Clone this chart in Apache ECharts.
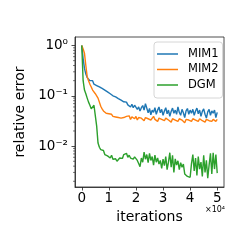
<!DOCTYPE html>
<html><head><meta charset="utf-8">
<script src="https://cdn.jsdelivr.net/npm/echarts@6/dist/echarts.min.js"></script>
<style>html,body{margin:0;padding:0;background:#fff}#c{width:249px;height:249px}</style>
</head><body><div id="c"></div>
<script>
var iterations = [0,500,1000,1500,2000,2500,3000,3500,4000,4500,5000,5500,6000,6500,7000,7500,8000,8500,9000,9500,
10000,10500,11000,11500,12000,12500,13000,13500,14000,14500,15000,15500,16000,16500,17000,17500,18000,18500,19000,19500,
20000,20500,21000,21500,22000,22500,23000,23500,24000,24500,25000,25500,26000,26500,27000,27500,28000,28500,29000,29500,
30000,30500,31000,31500,32000,32500,33000,33500,34000,34500,35000,35500,36000,36500,37000,37500,38000,38500,39000,39500,
40000,40500,41000,41500,42000,42500,43000,43500,44000,44500,45000,45500,46000,46500,47000,47500,48000,48500,49000,49500,50000];
var mim1 = [1.0,0.55,0.35,0.27,0.23,0.21,0.2,0.19,0.2,0.17,
0.18,0.16,0.165,0.15,0.155,0.14,0.145,0.13,0.138,0.12,
0.125,0.11,0.118,0.1,0.108,0.095,0.1,0.088,0.092,0.082,
0.086,0.076,0.07,0.075,0.066,0.072,0.06,0.068,0.058,0.065,
0.062,0.054,0.06,0.05,0.058,0.064,0.052,0.07,0.066,0.046,
0.056,0.042,0.052,0.047,0.058,0.043,0.052,0.06,0.046,0.054,
0.041,0.05,0.058,0.044,0.052,0.039,0.049,0.057,0.045,0.052,
0.043,0.06,0.047,0.041,0.054,0.046,0.037,0.05,0.056,0.043,
0.052,0.045,0.054,0.041,0.05,0.057,0.044,0.052,0.039,0.049,
0.055,0.043,0.036,0.048,0.054,0.041,0.05,0.045,0.052,0.037,0.047];
var mim2 = [1.0,0.85,0.7,0.4,0.24,0.2,0.17,0.15,0.13,0.12,
0.11,0.1,0.09,0.075,0.062,0.055,0.05,0.046,0.045,0.042,
0.044,0.041,0.043,0.039,0.042,0.038,0.041,0.037,0.04,0.036,
0.039,0.037,0.035,0.039,0.036,0.04,0.034,0.038,0.041,0.035,
0.039,0.033,0.037,0.04,0.036,0.038,0.032,0.037,0.04,0.035,
0.038,0.033,0.036,0.039,0.034,0.037,0.031,0.036,0.039,0.034,
0.037,0.032,0.036,0.038,0.033,0.036,0.03,0.035,0.038,0.033,
0.036,0.031,0.035,0.038,0.033,0.036,0.029,0.034,0.037,0.033,
0.036,0.031,0.035,0.038,0.033,0.036,0.031,0.035,0.037,0.032,
0.035,0.03,0.034,0.037,0.032,0.035,0.031,0.034,0.036,0.031,0.034];
var dgm = [1.0,0.2,0.13,0.11,0.09,0.075,0.065,0.055,0.06,0.065,
0.062,0.025,0.0115,0.0095,0.0085,0.0078,0.0082,0.0068,0.0074,0.0064,
0.007,0.0058,0.0066,0.0055,0.0052,0.0056,0.005,0.0054,0.0058,0.0062,
0.0057,0.0068,0.0064,0.0072,0.006,0.0066,0.0058,0.0063,0.0055,0.0061,
0.0056,0.0052,0.0045,0.0039,0.0058,0.0048,0.0076,0.0055,0.0068,0.0047,
0.0072,0.0052,0.0062,0.0042,0.0066,0.0048,0.0058,0.0044,0.0052,0.0036,
0.0055,0.0041,0.0062,0.0034,0.0048,0.0074,0.0038,0.0066,0.003,0.0056,
0.0042,0.0051,0.0034,0.0047,0.0038,0.0044,0.0028,0.0026,0.0025,0.0027,
0.0024,0.0045,0.0068,0.0032,0.0058,0.0026,0.0062,0.0035,0.0048,0.0025,
0.0066,0.003,0.0052,0.0023,0.0042,0.0072,0.0028,0.0074,0.0035,0.0068,0.0029];
var xTicks = [0,10000,20000,30000,40000,50000];
var yMajor = [0.01,0.1,1];
var yMinor = [0.002,0.003,0.004,0.005,0.006,0.007,0.008,0.009,0.02,0.03,0.04,0.05,0.06,0.07,0.08,0.09,0.2,0.3,0.4,0.5,0.6,0.7,0.8,0.9];
var supMap = {'1':'⁰','0.1':'⁻¹','0.01':'⁻²'};

function pairs(ys){ return iterations.map(function(x,i){ return [x, ys[i]]; }); }
var FONT = 'DejaVu Sans';
var chart = echarts.init(document.getElementById('c'), null, {renderer:'canvas'});
var option = {
  animation:false,
  backgroundColor:'#fff',
  grid:{left:75, top:37, right:25, bottom:62, show:true, borderColor:'#222', borderWidth:0.8, backgroundColor:'transparent'},
  xAxis:{type:'value', min:-2500, max:52500,
    axisLine:{show:true, onZero:false, lineStyle:{color:'#222', width:0.8}},
    axisTick:{show:true, length:3.5, lineStyle:{color:'#222', width:0.8}, customValues:xTicks},
    axisLabel:{customValues:xTicks, formatter:function(v){return String(Math.round(v/10000));}, color:'#000', fontFamily:FONT, fontSize:13.5, margin:4},
    splitLine:{show:false},
    name:'iterations', nameLocation:'middle', nameGap:17, nameTextStyle:{fontFamily:FONT, fontSize:14, color:'#000'}
  },
  yAxis:{type:'log', logBase:10, min:0.00154, max:1.476,
    axisLine:{show:true, onZero:false, lineStyle:{color:'#222', width:0.8}},
    axisTick:{show:true, length:3.5, lineStyle:{color:'#222', width:0.8}, customValues:yMajor},
    axisLabel:{customValues:yMajor, formatter:function(v){var k=String(+v.toPrecision(3)); return '10'+(supMap[k]||'');}, color:'#000', fontFamily:FONT, fontSize:13.5, margin:7},
    splitLine:{show:false},
    name:'relative error', nameLocation:'middle', nameGap:34, nameTextStyle:{fontFamily:FONT, fontSize:14, color:'#000'}
  },
  legend:{orient:'vertical', left:154, top:42, data:['MIM1','MIM2','DGM'], icon:'rect', itemWidth:21, itemHeight:1.5, itemGap:3.5,
    padding:[6,4,7,3], borderColor:'#ccc', borderWidth:0.8, borderRadius:3, backgroundColor:'rgba(255,255,255,0.8)',
    textStyle:{fontFamily:FONT, fontSize:11.5, color:'#000', padding:[0,0,0,5]}},
  series:[
    {name:'MIM1', type:'line', data:pairs(mim1), showSymbol:false, symbol:'none', color:'#1f77b4', lineStyle:{width:1.4, color:'#1f77b4'}},
    {name:'MIM2', type:'line', data:pairs(mim2), showSymbol:false, symbol:'none', color:'#ff7f0e', lineStyle:{width:1.4, color:'#ff7f0e'}},
    {name:'DGM', type:'line', data:pairs(dgm), showSymbol:false, symbol:'none', color:'#2ca02c', lineStyle:{width:1.4, color:'#2ca02c'}}
  ]
};
chart.setOption(option);
var gx = chart.convertToPixel({xAxisIndex:0}, -2500);
var gr = chart.convertToPixel({xAxisIndex:0}, 52500);
var gb = chart.convertToPixel({yAxisIndex:0}, 0.00154);
var els = yMinor.map(function(v){
  var y = chart.convertToPixel({yAxisIndex:0}, v);
  return {type:'line', shape:{x1:gx-2, y1:y, x2:gx, y2:y}, style:{stroke:'#222', lineWidth:0.6}, silent:true};
});
els.push({type:'text', x:gr-9, y:gb+23, style:{text:'×10⁴', fontFamily:FONT, fontSize:8, fill:'#000', align:'center', verticalAlign:'middle'}});
chart.setOption({graphic:els});
</script></body></html>
